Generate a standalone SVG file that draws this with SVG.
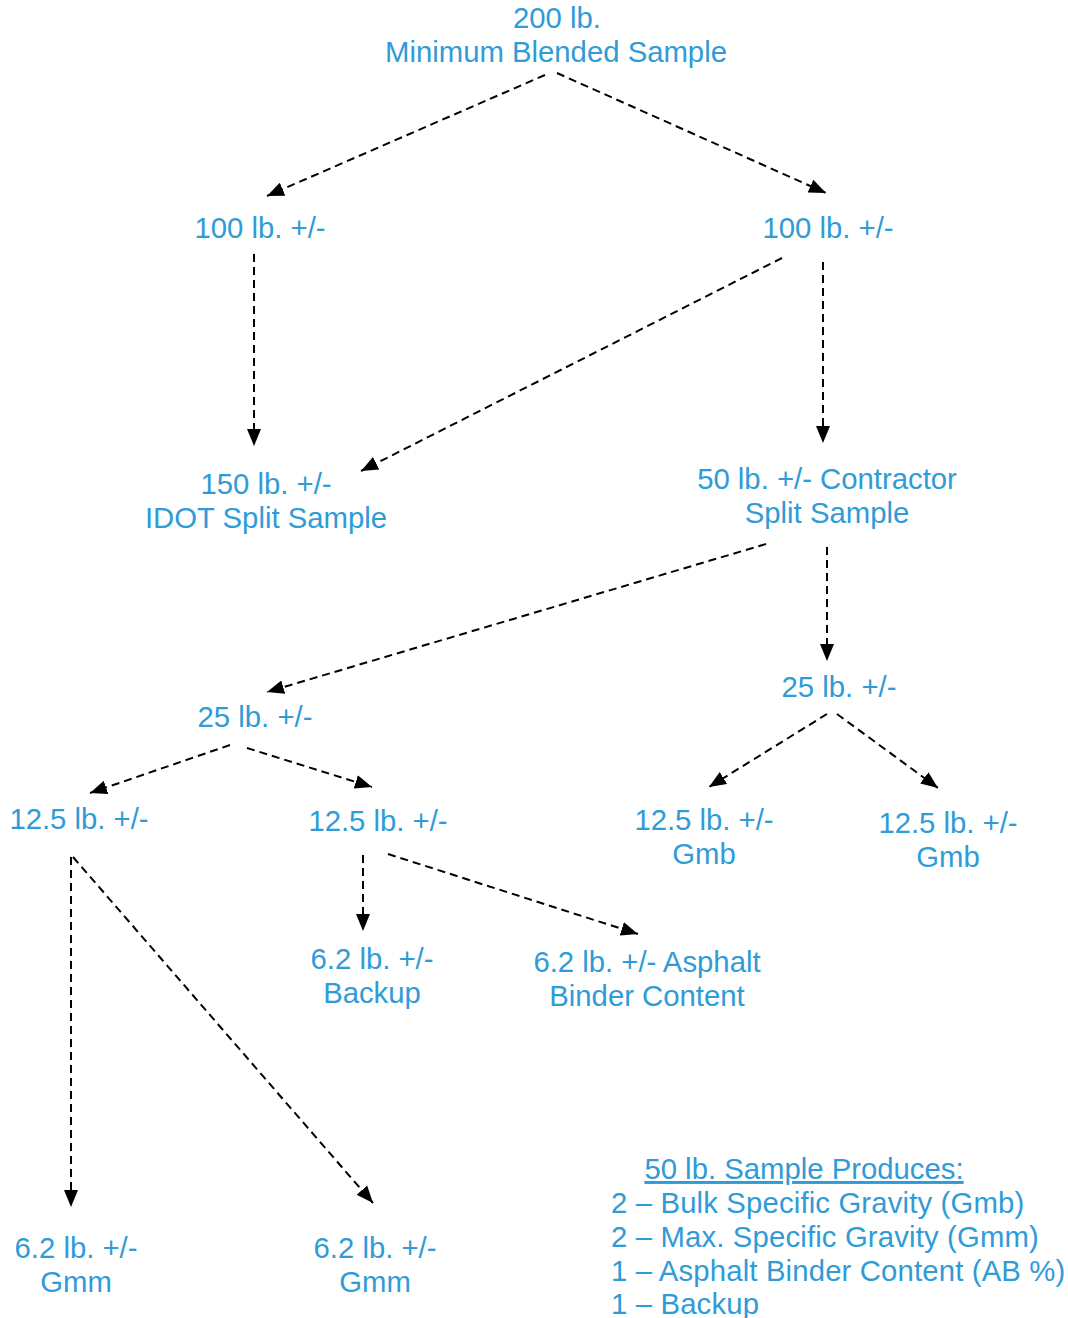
<svg xmlns="http://www.w3.org/2000/svg" width="1068" height="1318" viewBox="0 0 1068 1318">
<style>
text{font-family:"Liberation Sans",Arial,sans-serif;font-size:29.3px;fill:#2F9BD7;text-anchor:middle}
.l{text-anchor:start}
.c{fill:none;stroke:#000;stroke-width:2;stroke-dasharray:8 5;marker-end:url(#a)}
</style>
<defs>
<marker id="a" markerUnits="userSpaceOnUse" markerWidth="18" markerHeight="16" refX="17" refY="8" orient="auto">
<path d="M0,1 L17,8 L0,15 Z" fill="#000"/>
</marker>
</defs>
<rect width="1068" height="1318" fill="#fff"/>
<g id="connectors">
<line class="c" x1="545" y1="75" x2="267" y2="196"/>
<line class="c" x1="557" y1="73" x2="826" y2="193"/>
<line class="c" x1="254" y1="254" x2="254" y2="446"/>
<line class="c" x1="782" y1="258" x2="361" y2="471"/>
<line class="c" x1="823" y1="262" x2="823" y2="443"/>
<line class="c" x1="766" y1="544" x2="267" y2="692"/>
<line class="c" x1="827" y1="547" x2="827" y2="661"/>
<line class="c" x1="230" y1="745" x2="90" y2="793"/>
<line class="c" x1="247" y1="748" x2="372" y2="787"/>
<line class="c" x1="827" y1="714" x2="709" y2="787"/>
<line class="c" x1="837" y1="714" x2="938" y2="788"/>
<line class="c" x1="71" y1="857" x2="71" y2="1207"/>
<line class="c" x1="73" y1="857" x2="373" y2="1203"/>
<line class="c" x1="363" y1="855" x2="363" y2="931"/>
<line class="c" x1="388" y1="854" x2="638" y2="934"/>
</g>
<g id="n200"><text x="557" y="28">200 lb.</text><text x="556" y="62">Minimum Blended Sample</text></g>
<g id="n100a"><text x="260" y="238">100 lb. +/-</text></g>
<g id="n100b"><text x="828" y="238">100 lb. +/-</text></g>
<g id="n150"><text x="266" y="494">150 lb. +/-</text><text x="266" y="528">IDOT Split Sample</text></g>
<g id="n50"><text x="827" y="489">50 lb. +/- Contractor</text><text x="827" y="523">Split Sample</text></g>
<g id="n25a"><text x="255" y="727">25 lb. +/-</text></g>
<g id="n25b"><text x="839" y="697">25 lb. +/-</text></g>
<g id="n12a"><text x="79" y="829">12.5 lb. +/-</text></g>
<g id="n12b"><text x="378" y="831">12.5 lb. +/-</text></g>
<g id="n12c"><text x="704" y="830">12.5 lb. +/-</text><text x="704" y="864">Gmb</text></g>
<g id="n12d"><text x="948" y="833">12.5 lb. +/-</text><text x="948" y="867">Gmb</text></g>
<g id="n6a"><text x="372" y="969">6.2 lb. +/-</text><text x="372" y="1003">Backup</text></g>
<g id="n6b"><text x="647" y="972">6.2 lb. +/- Asphalt</text><text x="647" y="1006">Binder Content</text></g>
<g id="n6c"><text x="76" y="1258">6.2 lb. +/-</text><text x="76" y="1292">Gmm</text></g>
<g id="n6d"><text x="375" y="1258">6.2 lb. +/-</text><text x="375" y="1292">Gmm</text></g>
<g id="legend">
<text x="804" y="1179" text-decoration="underline">50 lb. Sample Produces:</text>
<text class="l" x="611" y="1213" letter-spacing="0.15">2 – Bulk Specific Gravity (Gmb)</text>
<text class="l" x="611" y="1247" letter-spacing="0.15">2 – Max. Specific Gravity (Gmm)</text>
<text class="l" x="611" y="1281" letter-spacing="0.15">1 – Asphalt Binder Content (AB %)</text>
<text class="l" x="611" y="1314" letter-spacing="0.15">1 – Backup</text>
</g>
</svg>
